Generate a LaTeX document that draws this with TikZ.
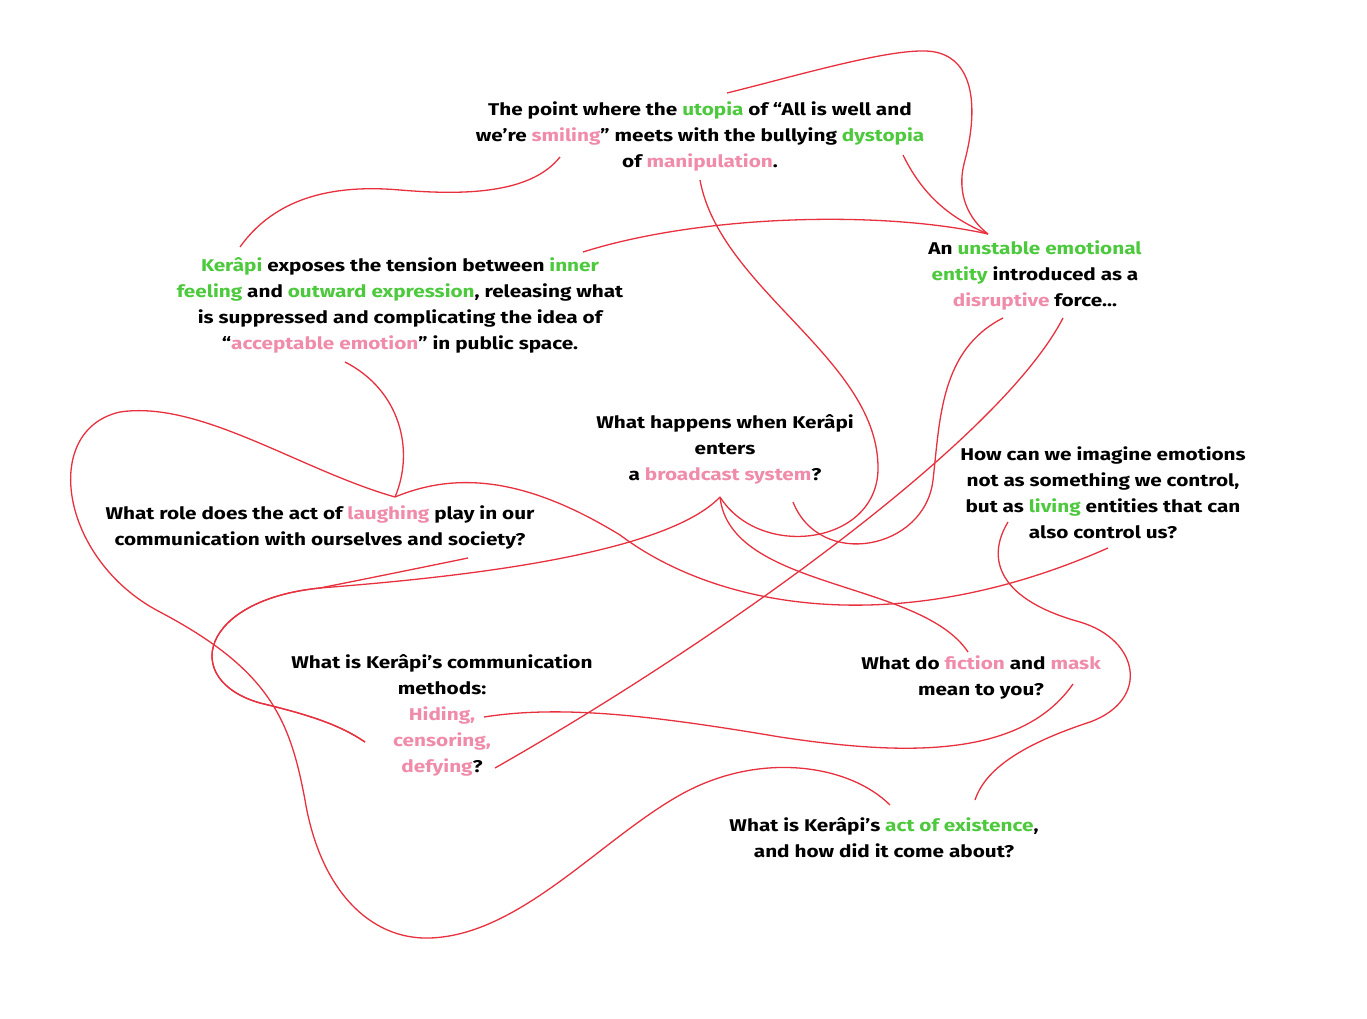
\documentclass[tikz,border=0pt]{standalone}
\usepackage{fontspec}
\setmainfont{Fira Sans}[FakeStretch=1.22]
\definecolor{lg}{HTML}{4CC93C}
\definecolor{pk}{HTML}{F08CAA}
\definecolor{ln}{HTML}{E8313F}
\newcommand{\gw}[1]{\textcolor{lg}{#1}}
\newcommand{\pw}[1]{\textcolor{pk}{#1}}
\tikzset{
  txt/.style={align=center, inner sep=0pt, font=\fontsize{17}{26}\selectfont\bfseries},
  link/.style={draw=ln, line width=1.3pt}
}
\begin{document}
\begin{tikzpicture}[x=1pt,y=-1pt]
\useasboundingbox[fill=white] (0,0) rectangle (1367,1019);
\node[txt] (utopia) at (700,136) {The point where the \gw{utopia} of “All is well and\\we’re \pw{smiling}” meets with the bullying \gw{dystopia}\\of \pw{manipulation}.};
\node[txt] (kerapi) at (400,305) {\gw{Kerâpi} exposes the tension between \gw{inner}\\\gw{feeling} and \gw{outward expression}, releasing what\\is suppressed and complicating the idea of\\“\pw{acceptable emotion}” in public space.};
\node[txt] (unstable) at (1035,275) {An \gw{unstable emotional}\\\gw{entity} introduced as a\\\pw{disruptive} force...};
\node[txt] (broadcast) at (725,449) {What happens when Kerâpi\\enters\\a \pw{broadcast system}?};
\node[txt] (howcan) at (1103,493) {How can we imagine emotions\\not as something we control,\\but as \gw{living} entities that can\\also control us?};
\node[txt] (laughing) at (320,527) {What role does the act of \pw{laughing} play in our\\communication with ourselves and society?};
\node[txt] (comm) at (442,715) {What is Kerâpi's communication\\methods:\\\pw{Hiding,}\\\pw{censoring,}\\\pw{defying}?};
\node[txt] (fiction) at (981,677) {What do \pw{fiction} and \pw{mask}\\mean to you?};
\node[txt] (existence) at (884,838) {What is Kerâpi's \gw{act of existence},\\and how did it come about?};

% utopia -> kerapi
\draw[link] ([shift={(-140,21)}]utopia.center) .. controls (530,195) and (460,195) .. (400,190) .. controls (320,183) and (270,205) .. ([shift={(-160,-58)}]kerapi.center);
% utopia -> unstable (big loop)
\draw[link] ([shift={(27,-43)}]utopia.center) .. controls (800,75) and (900,45) .. (935,52) .. controls (975,60) and (978,110) .. (965,160) .. controls (955,195) and (970,220) .. ([shift={(-47,-41)}]unstable.center);
% utopia -> unstable (short)
\draw[link] ([shift={(203,19)}]utopia.center) .. controls (925,200) and (955,220) .. ([shift={(-47,-41)}]unstable.center);
% kerapi -> unstable
\draw[link] ([shift={(183,-53)}]kerapi.center) .. controls (700,215) and (880,210) .. ([shift={(-47,-41)}]unstable.center);
% utopia -> broadcast
\draw[link] ([shift={(0,44)}]utopia.center) .. controls (720,290) and (880,360) .. (878,470) .. controls (876,545) and (760,560) .. ([shift={(-5,48)}]broadcast.center);
% kerapi -> laughing
\draw[link] ([shift={(-55,57)}]kerapi.center) .. controls (400,390) and (415,450) .. ([shift={(75,-30)}]laughing.center);
% laughing -> existence (left lobe)
\draw[link] ([shift={(75,-30)}]laughing.center) .. controls (300,470) and (200,400) .. (120,412) .. controls (40,430) and (60,560) .. (160,612) .. controls (270,670) and (290,720) .. (305,800) .. controls (320,890) and (370,940) .. (430,938) .. controls (520,935) and (600,840) .. (680,795) .. controls (760,750) and (850,765) .. ([shift={(6,-33)}]existence.center);
% laughing -> howcan (right lobe)
\draw[link] ([shift={(75,-30)}]laughing.center) .. controls (460,470) and (530,480) .. (620,535) .. controls (720,610) and (900,640) .. ([shift={(5,55)}]howcan.center);
% unstable -> broadcast
\draw[link] ([shift={(-32,43)}]unstable.center) .. controls (940,350) and (940,420) .. (933,480) .. controls (925,550) and (820,570) .. ([shift={(68,53)}]broadcast.center);
% unstable -> comm
\draw[link] ([shift={(28,43)}]unstable.center) .. controls (1000,440) and (720,640) .. ([shift={(53,53)}]comm.center);
% broadcast -> comm
\draw[link] ([shift={(-5,48)}]broadcast.center) .. controls (660,560) and (420,580) .. (320,588) .. controls (200,600) and (180,680) .. (260,703) .. controls (310,715) and (340,725) .. ([shift={(-77,27)}]comm.center);
% laughing -> comm
\draw[link] ([shift={(148,31)}]laughing.center) .. controls (400,572) and (350,582) .. (320,588) .. controls (200,600) and (180,680) .. (260,703) .. controls (310,715) and (340,725) .. ([shift={(-77,27)}]comm.center);
% broadcast -> fiction
\draw[link] ([shift={(-5,48)}]broadcast.center) .. controls (730,590) and (920,580) .. ([shift={(-13,-25)}]fiction.center);
% howcan -> existence
\draw[link] ([shift={(-95,29)}]howcan.center) .. controls (985,560) and (1000,600) .. (1080,622) .. controls (1140,640) and (1150,700) .. (1090,722) .. controls (1020,745) and (985,770) .. ([shift={(91,-38)}]existence.center);
% fiction -> comm
\draw[link] ([shift={(92,7)}]fiction.center) .. controls (1020,760) and (900,755) .. (780,737) .. controls (650,715) and (560,705) .. ([shift={(42,2)}]comm.center);
\end{tikzpicture}
\end{document}
